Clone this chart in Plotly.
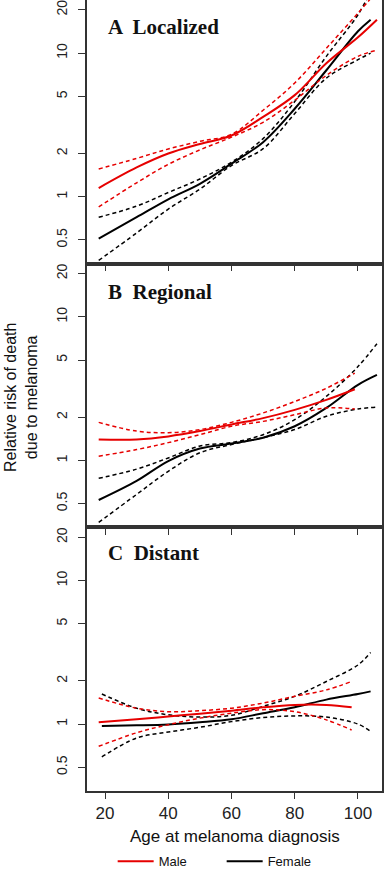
import plotly.graph_objects as go
from plotly.subplots import make_subplots

# ---------------- data ----------------
# Panel A: Localized
A_male_age = [18, 30, 40, 50, 60, 70, 80, 90, 100, 106]
A_male_est = [1.15, 1.60, 2.0, 2.33, 2.67, 3.6, 5.1, 8.5, 12.9, 17.1]
A_male_hi = [1.56, 1.85, 2.15, 2.43, 2.72, 4.0, 6.2, 10.8, 19.0, 27.0]
A_male_lo = [0.85, 1.25, 1.68, 2.12, 2.60, 3.3, 4.7, 7.0, 9.5, 10.5]
A_fem_age = [18, 30, 40, 50, 60, 70, 80, 90, 100, 104]
A_fem_est = [0.51, 0.72, 0.96, 1.23, 1.70, 2.4, 4.1, 7.6, 14.2, 17.1]
A_fem_hi = [0.72, 0.86, 1.07, 1.33, 1.74, 2.54, 4.6, 9.5, 18.5, 27.0]
A_fem_lo = [0.36, 0.56, 0.82, 1.13, 1.65, 2.16, 3.8, 6.7, 9.0, 10.0]

# Panel B: Regional
B_male_age = [18, 30, 40, 50, 60, 70, 80, 90, 99]
B_male_est = [1.40, 1.40, 1.47, 1.60, 1.78, 1.97, 2.25, 2.64, 3.13]
B_male_hi = [1.84, 1.60, 1.56, 1.64, 1.84, 2.14, 2.57, 3.18, 4.05]
B_male_lo = [1.07, 1.19, 1.33, 1.51, 1.73, 1.87, 2.08, 2.32, 2.28]
B_fem_age = [18, 30, 40, 50, 60, 70, 80, 90, 100, 106]
B_fem_est = [0.53, 0.72, 0.99, 1.21, 1.31, 1.44, 1.73, 2.32, 3.36, 3.94]
B_fem_hi = [0.75, 0.87, 1.04, 1.26, 1.33, 1.51, 1.92, 2.79, 4.5, 6.5]
B_fem_lo = [0.37, 0.58, 0.84, 1.13, 1.29, 1.44, 1.64, 2.03, 2.28, 2.35]

# Panel C: Distant
C_male_age = [18, 30, 40, 50, 60, 70, 80, 90, 98]
C_male_est = [1.03, 1.08, 1.13, 1.18, 1.24, 1.31, 1.36, 1.36, 1.31]
C_male_hi = [1.52, 1.29, 1.22, 1.24, 1.29, 1.40, 1.56, 1.73, 1.98]
C_male_lo = [0.70, 0.87, 0.99, 1.10, 1.19, 1.26, 1.22, 1.07, 0.91]
C_fem_age = [19, 30, 40, 50, 60, 70, 80, 90, 100, 104]
C_fem_est = [0.97, 0.98, 0.995, 1.03, 1.08, 1.19, 1.31, 1.48, 1.62, 1.69]
C_fem_hi = [1.62, 1.29, 1.16, 1.12, 1.15, 1.33, 1.56, 1.98, 2.58, 3.15]
C_fem_lo = [0.59, 0.80, 0.88, 0.95, 1.04, 1.11, 1.14, 1.12, 1.00, 0.89]

panel_titles = ["A  Localized", "B  Regional", "C  Distant"]
y_tickvals = [0.5, 1, 2, 5, 10, 20]
y_ticktext = ["0.5", "1", "2", "5", "10", "20"]
x_tickvals = [20, 40, 60, 80, 100]

RED = "#e60000"
BLACK = "#000000"

panels = [
    (A_male_age, A_male_est, A_male_hi, A_male_lo, A_fem_age, A_fem_est, A_fem_hi, A_fem_lo),
    (B_male_age, B_male_est, B_male_hi, B_male_lo, B_fem_age, B_fem_est, B_fem_hi, B_fem_lo),
    (C_male_age, C_male_est, C_male_hi, C_male_lo, C_fem_age, C_fem_est, C_fem_hi, C_fem_lo),
]

fig = make_subplots(rows=3, cols=1, shared_xaxes=True, vertical_spacing=0)

for i, (ma, me, mh, ml, fa, fe, fh, fl) in enumerate(panels):
    row = i + 1
    first = i == 0
    for ys in (fh, fl):
        fig.add_trace(go.Scatter(x=fa, y=ys, mode="lines", line=dict(color=BLACK, width=1.5, dash="4px,3px", shape="spline"),
                                 showlegend=False, hoverinfo="skip"), row=row, col=1)
    fig.add_trace(go.Scatter(x=fa, y=fe, mode="lines", name="Female", legendrank=2,
                             line=dict(color=BLACK, width=2, shape="spline"), showlegend=first), row=row, col=1)
    for ys in (mh, ml):
        fig.add_trace(go.Scatter(x=ma, y=ys, mode="lines", line=dict(color=RED, width=1.5, dash="4px,3px", shape="spline"),
                                 showlegend=False, hoverinfo="skip"), row=row, col=1)
    fig.add_trace(go.Scatter(x=ma, y=me, mode="lines", name="Male", legendrank=1,
                             line=dict(color=RED, width=2, shape="spline"), showlegend=first), row=row, col=1)

axis_color = "#333333"
for i in range(3):
    row = i + 1
    fig.update_yaxes(type="log", range=[-0.466, 1.37], tickvals=y_tickvals, ticktext=y_ticktext,
                     tickangle=-90, ticks="outside", ticklen=7, tickwidth=1, tickcolor=axis_color,
                     ticklabelstandoff=6, ticklabeloverflow="allow",
                     showline=True, linecolor=axis_color, linewidth=1.5, mirror=True,
                     showgrid=False, zeroline=False,
                     tickfont=dict(family="Liberation Sans, Arial", size=14, color="#222222"),
                     row=row, col=1)
    fig.update_xaxes(range=[14.3, 107.6], tickvals=x_tickvals, ticks="outside", ticklen=6, tickwidth=1,
                     tickcolor=axis_color, showline=True, linecolor=axis_color, linewidth=1.5, mirror=True,
                     showgrid=False, zeroline=False, showticklabels=(row == 3),
                     tickfont=dict(family="Liberation Sans, Arial", size=17, color="#222222"),
                     row=row, col=1)

title_y = [0.966, 0.631, 0.301]
for t, yy in zip(panel_titles, title_y):
    fig.add_annotation(text="<b>%s</b>" % t, xref="paper", yref="paper", x=0.066, y=yy,
                       xanchor="left", yanchor="middle", showarrow=False,
                       font=dict(family="Liberation Serif, Times New Roman", size=21, color="#111111"))

fig.add_annotation(text="Relative risk of death<br>due to melanoma", xref="paper", yref="paper",
                   x=-0.224, y=0.498, xanchor="center", yanchor="middle", textangle=-90, showarrow=False,
                   font=dict(family="Liberation Sans, Arial", size=16, color="#111111"))
fig.add_annotation(text="Age at melanoma diagnosis", xref="paper", yref="paper",
                   x=0.50, y=-0.058, xanchor="center", yanchor="middle", showarrow=False,
                   font=dict(family="Liberation Sans, Arial", size=17, color="#111111"))

fig.update_layout(
    width=384, height=871,
    margin=dict(l=87, r=2, t=0, b=80, autoexpand=False),
    paper_bgcolor="white", plot_bgcolor="white",
    showlegend=True,
    legend=dict(orientation="h", x=0.087, y=-0.089, xanchor="left", yanchor="middle",
                font=dict(family="Liberation Sans, Arial", size=13, color="#111111"),
                itemwidth=36, entrywidth=58, entrywidthmode="pixels", traceorder="normal",
                bgcolor="rgba(0,0,0,0)", borderwidth=0),
)

fig.write_html("out.html", config={"displayModeBar": False},
               post_script="document.body.style.margin='0';document.body.style.overflow='hidden';")
